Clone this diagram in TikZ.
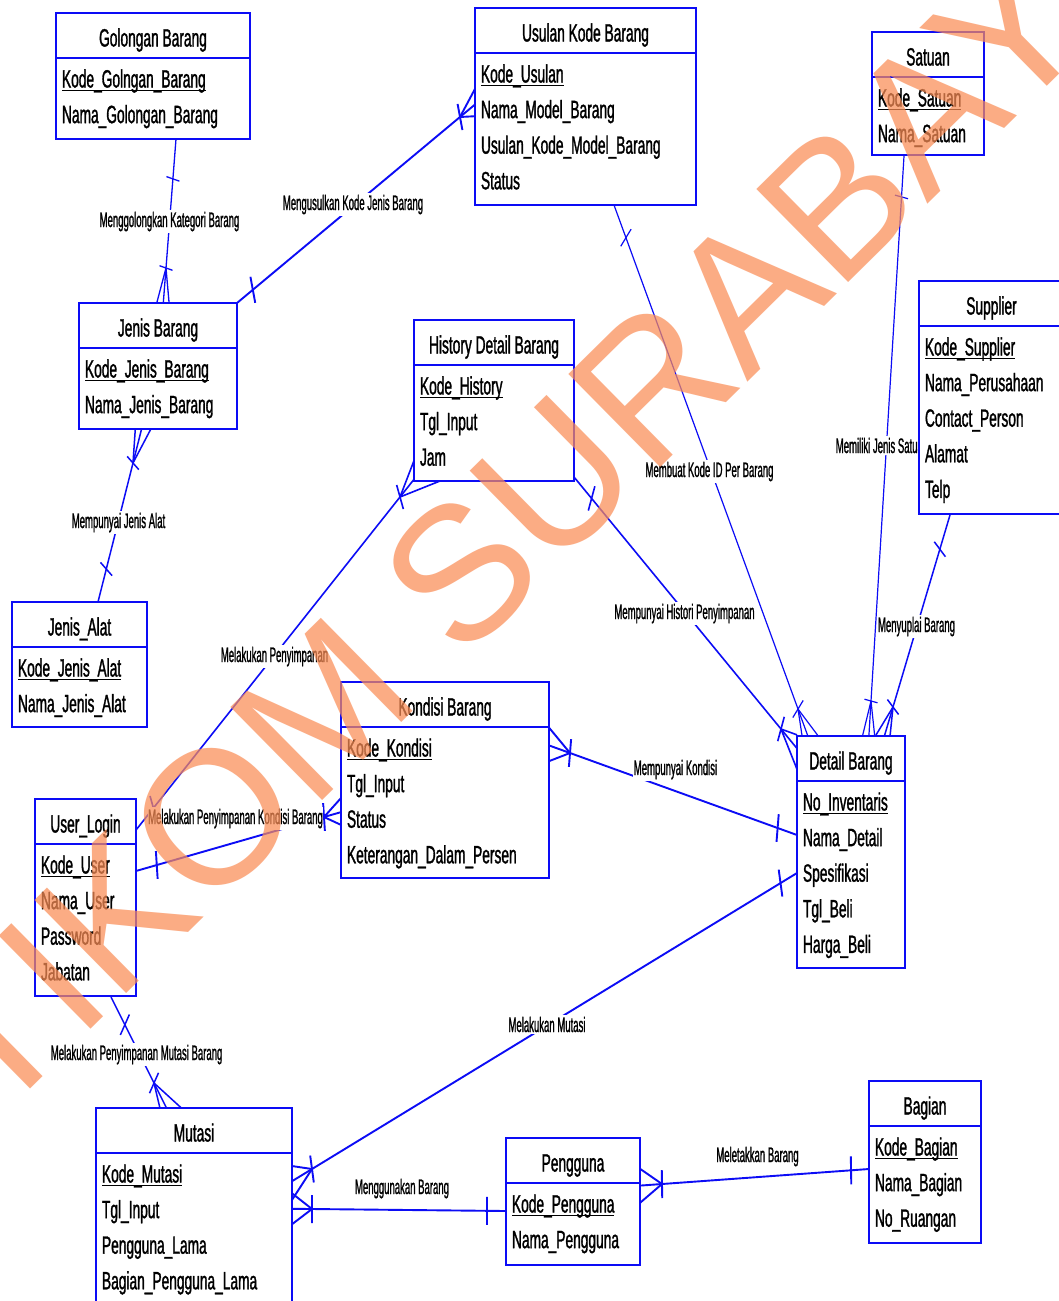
\documentclass[tikz,border=0pt]{standalone}
\usepackage{fontspec}
\setmainfont{Liberation Sans}
\newfontfamily\entfont[FakeStretch=0.55,FakeBold=1.2]{Liberation Sans}
\newfontfamily\relfont[FakeStretch=0.455,FakeBold=1]{Liberation Sans}
\newfontfamily\wmfont{Liberation Sans}
\usetikzlibrary{calc}
\definecolor{erblue}{RGB}{12,12,245}
\definecolor{wmorange}{RGB}{250,140,85}
\tikzset{
 cline/.style={draw=erblue, line width=1.7pt},
 ebox/.style={draw=erblue, fill=white, line width=2.2pt, inner sep=0pt, outer sep=0pt},
 eline/.style={draw=erblue, line width=2.2pt},
 etxt/.style={font=\entfont\fontsize{25}{30}\selectfont, inner sep=0pt, outer sep=0pt, text=black},
 uline/.style={draw=black, line width=1.4pt},
 rlab/.style={font=\relfont\fontsize{21}{25}\selectfont, fill=white, inner xsep=0.4pt, inner ysep=2pt, anchor=base, text=black},
 wm/.style={font=\wmfont\fontsize{190}{190}\selectfont, text=wmorange, text opacity=0.72, inner sep=0pt}
}
% tick centred at (#2,#3), crossing the line that runs towards (#4,#5)
\newcommand{\ertick}[5][]{%
 \pgfmathsetmacro{\tdx}{(#2-#4)/0.47}%
 \pgfmathsetmacro{\tdy}{#3-#5}%
 \pgfmathsetmacro{\tn}{20*veclen(\tdx/20,\tdy/20)}%
 \pgfmathsetmacro{\tox}{-6.58*(\tdy/\tn)}%
 \pgfmathsetmacro{\toy}{14*(\tdx/\tn)}%
 \draw[cline,#1] ($(#2,#3)+(\tox,\toy)$) -- ($(#2,#3)-(\tox,\toy)$);%
}
% connector: one end (#3,#4), fan point (#5,#6), bar at distance #7 from the one end
\newcommand{\erconn}[7][]{%
 \coordinate (#2o) at (#3,#4);%
 \coordinate (#2f) at (#5,#6);%
 \draw[cline,#1] (#2o) -- (#2f);%
 \pgfmathsetmacro{\cL}{20*veclen((#5-#3)/20,(#6-#4)/20)}%
 \pgfmathsetmacro{\cTx}{#3+(#5-#3)*(#7/\cL)}%
 \pgfmathsetmacro{\cTy}{#4+(#6-#4)*(#7/\cL)}%
 \ertick[#1]{\cTx}{\cTy}{#3}{#4}%
 \ertick[#1]{#5}{#6}{#3}{#4}%
}
% crow's foot prongs to a horizontal edge y=#6
\newcommand{\ercrowH}[7][]{%
 \pgfmathsetmacro{\cang}{atan2(#5-#3,(#4-#2)/0.47)}%
 \foreach \dd in {#7}{%
   \pgfmathsetmacro{\cbb}{\cang+\dd}%
   \pgfmathsetmacro{\chx}{#4+0.47*(#6-#5)*cos(\cbb)/sin(\cbb)}%
   \draw[cline,#1] (#4,#5) -- (\chx,#6);%
 }%
}
% crow's foot prongs to a vertical edge x=#6
\newcommand{\ercrowV}[7][]{%
 \pgfmathsetmacro{\cang}{atan2(#5-#3,(#4-#2)/0.47)}%
 \foreach \dd in {#7}{%
   \pgfmathsetmacro{\cbb}{\cang+\dd}%
   \pgfmathsetmacro{\chy}{#5+((#6-#4)/0.47)*sin(\cbb)/cos(\cbb)}%
   \draw[cline,#1] (#4,#5) -- (#6,\chy);%
 }%
}
% entity: name, x0, y0, x1, y1, title, attributes
\newcommand{\erent}[7]{%
 \node[ebox, anchor=north west, minimum width={(#4-#2)*1pt}, minimum height={(#5-#3)*1pt}] (#1) at (#2,#3) {};%
 \draw[eline] (#2,{#3+45}) -- (#4,{#3+45});%
 \node[etxt, anchor=base] (#1-t) at ({(#2+#4)/2},{#3+33.5}) {#6};%
 \foreach \eatt [count=\ecnt] in {#7}{%
   \node[etxt, anchor=base west] (#1-\ecnt) at ({#2+6},{#3+74.5+35.6*(\ecnt-1)}) {\eatt};%
 }%
 \draw[uline] ([yshift=-3pt]#1-1.base west) -- ([yshift=-3pt]#1-1.base east);%
}
\begin{document}
\begin{tikzpicture}[x=1pt,y=-1pt]
\useasboundingbox (0,0) rectangle (1059,1301);
\clip (0,0) rectangle (1059,1301);
\fill[white] (0,0) rectangle (1059,1301);

% connectors
\erconn[line width=1.3pt]{c1}{176}{139}{166}{268}{40}
\ercrowH[line width=1.3pt]{176}{139}{166}{268}{303}{-20,0,20}
\erconn[line width=1.9pt]{c2}{237}{303}{460}{117}{20.6}
\ercrowV[line width=1.9pt]{237}{303}{460}{117}{475}{-20,0,20}
\erconn[line width=1.5pt]{c3}{98}{602}{133}{463}{34}
\ercrowH[line width=1.5pt]{98}{602}{133}{463}{429}{-20,0,20}
\erconn[line width=1.6pt]{c4}{136}{830}{400}{497}{28}
\ercrowV[line width=1.6pt]{136}{830}{400}{497}{414}{-20,0}
\ercrowH[line width=1.6pt]{136}{830}{400}{497}{481}{20}
\erconn[line width=1.9pt]{c5}{136}{871}{324}{817}{21.6}
\ercrowV[line width=1.9pt]{136}{871}{324}{817}{341}{-20,0,20}
\erconn[line width=1.9pt]{c6}{797}{835}{570}{753}{20.6}
\ercrowV[line width=1.9pt]{797}{835}{570}{753}{549}{-20,0,20}
\erconn[line width=1.2pt]{c7}{614}{205}{798}{709}{34.8}
\ercrowH[line width=1.2pt]{614}{205}{798}{709}{736}{-20,0,20}
\erconn[line width=1.6pt]{c8}{574}{477}{781}{729}{27.7}
\ercrowV[line width=1.6pt]{574}{477}{781}{729}{797}{-20,0,20}
\erconn[line width=1.2pt]{c9}{904}{156}{871}{701}{41}
\ercrowH[line width=1.2pt]{904}{156}{871}{701}{736}{-20,0,20}
\erconn[line width=1.5pt]{c10}{950}{515}{893}{707}{35.7}
\ercrowH[line width=1.5pt]{950}{515}{893}{707}{736}{-20,0,20}
\erconn[line width=1.5pt]{c11}{111}{997}{154}{1083}{31}
\ercrowH[line width=1.5pt]{111}{997}{154}{1083}{1108}{-20,0,20}
\erconn[line width=1.9pt]{c12}{797}{873}{312}{1169}{19.3}
\ercrowV[line width=1.9pt]{797}{873}{312}{1169}{292}{-20,0,20}
\erconn[line width=1.9pt]{c13}{506}{1211}{312}{1209}{19}
\ercrowV[line width=1.9pt]{506}{1211}{312}{1209}{292}{-20,0,20}
\erconn[line width=1.9pt]{c14}{869}{1169}{662}{1184}{18}
\ercrowV[line width=1.9pt]{869}{1169}{662}{1184}{640}{-20,0,20}

% relationship labels
\node[rlab] (l1) at (169.5,227) {Menggolongkan Kategori Barang};
\node[rlab] (l2) at (353,210) {Mengusulkan Kode Jenis Barang};
\node[rlab] (l3) at (118.5,528) {Mempunyai Jenis Alat};
\node[rlab] (l4) at (274.5,662) {Melakukan Penyimpanan};
\node[rlab] (l5) at (235.5,824) {Melakukan Penyimpanan Kondisi Barang};
\node[rlab] (l6) at (675.5,775) {Mempunyai Kondisi};
\node[rlab] (l7) at (709.5,477) {Membuat Kode ID Per Barang};
\node[rlab] (l8) at (684.5,619) {Mempunyai Histori Penyimpanan};
\node[rlab] (l9) at (882,453) {Memiliki Jenis Satuan};
\node[rlab] (l10) at (916.5,632) {Menyuplai Barang};
\node[rlab] (l11) at (136.6,1060) {Melakukan Penyimpanan Mutasi Barang};
\node[rlab] (l12) at (547,1032) {Melakukan Mutasi};
\node[rlab] (l13) at (402,1194) {Menggunakan Barang};
\node[rlab] (l14) at (757.5,1162) {Meletakkan Barang};

% entities
\erent{gol}{56}{13}{250}{139}{Golongan Barang}{Kode\_Golngan\_Barang,Nama\_Golongan\_Barang}
\erent{usul}{475}{8}{696}{205}{Usulan Kode Barang}{Kode\_Usulan,Nama\_Model\_Barang,Usulan\_Kode\_Model\_Barang,Status}
\erent{sat}{872}{32}{984}{155}{Satuan}{Kode\_Satuan,Nama\_Satuan}
\erent{jb}{79}{303}{237}{429}{Jenis Barang}{Kode\_Jenis\_Barang,Nama\_Jenis\_Barang}
\erent{hist}{414}{320}{574}{481}{History Detail Barang}{Kode\_History,Tgl\_Input,Jam}
\erent{sup}{919}{281}{1064}{514}{Supplier}{Kode\_Supplier,Nama\_Perusahaan,Contact\_Person,Alamat,Telp}
\erent{ja}{12}{602}{147}{727}{Jenis\_Alat}{Kode\_Jenis\_Alat,Nama\_Jenis\_Alat}
\erent{kond}{341}{682}{549}{878}{Kondisi Barang}{Kode\_Kondisi,Tgl\_Input,Status,Keterangan\_Dalam\_Persen}
\erent{det}{797}{736}{905}{968}{Detail Barang}{No\_Inventaris,Nama\_Detail,Spesifikasi,Tgl\_Beli,Harga\_Beli}
\erent{ul}{35}{799}{136}{996}{User\_Login}{Kode\_User,Nama\_User,Password,Jabatan}
\erent{mut}{96}{1108}{292}{1330}{Mutasi}{Kode\_Mutasi,Tgl\_Input,Pengguna\_Lama,Bagian\_Pengguna\_Lama}
\erent{peng}{506}{1138}{640}{1265}{Pengguna}{Kode\_Pengguna,Nama\_Pengguna}
\erent{bag}{869}{1081}{981}{1243}{Bagian}{Kode\_Bagian,Nama\_Bagian,No\_Ruangan}

% watermark
\node[wm, rotate=44.6] (wmk) at (496,538) {STIKOM SURABAYA};
\end{tikzpicture}
\end{document}
